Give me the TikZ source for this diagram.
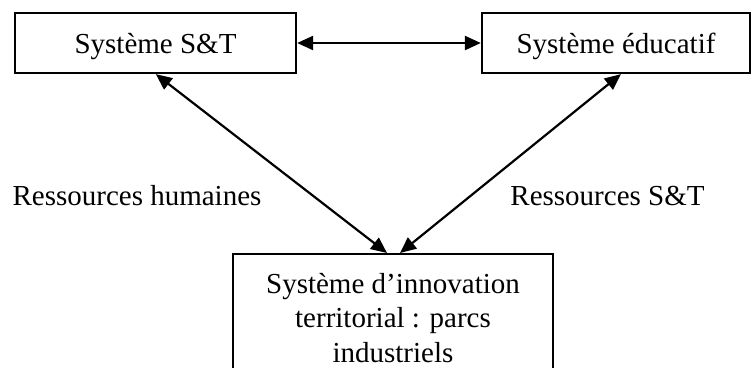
\documentclass[tikz,border=0pt]{standalone}
\usepackage{fontspec}
\setmainfont{Liberation Serif}
\usetikzlibrary{arrows.meta}
\begin{document}
\begin{tikzpicture}[x=1pt,y=-1pt,
  box/.style={draw, line width=2.3pt, inner sep=0pt,
    font=\fontsize{29}{34.5}\selectfont},
  topbox/.style={box, minimum height=60pt, text height=20pt, text depth=0pt},
  link/.style={line width=2.2pt,
    {Triangle[length=16pt,width=14pt]}-{Triangle[length=16pt,width=14pt]}},
  lbl/.style={font=\fontsize{29}{34.5}\selectfont, inner sep=0pt, anchor=base}]
\clip (0,0) rectangle (751,367);

% the three systems
\node[topbox, minimum width=281pt] (st) at (155.5,43) {Système S\&T};
\node[topbox, minimum width=268pt] (ed) at (616,43) {Système éducatif};
\node[box, anchor=north, minimum width=320pt, inner ysep=19pt, align=center]
  (inn) at (393,253) {Système d’innovation\\territorial : parcs\\industriels};

% flows between them
\draw[link] (st.east) -- (ed.west);
\draw[link] ([xshift=142pt]st.south west) -- ([xshift=-6pt]inn.north);
\draw[link] ([xshift=140pt]ed.south west) -- ([xshift=7pt]inn.north);

% flow labels
\node[lbl] (rh) at (137,205) {Ressources humaines};
\node[lbl] (rst) at (607.5,205) {Ressources S\&T};
\end{tikzpicture}
\end{document}
